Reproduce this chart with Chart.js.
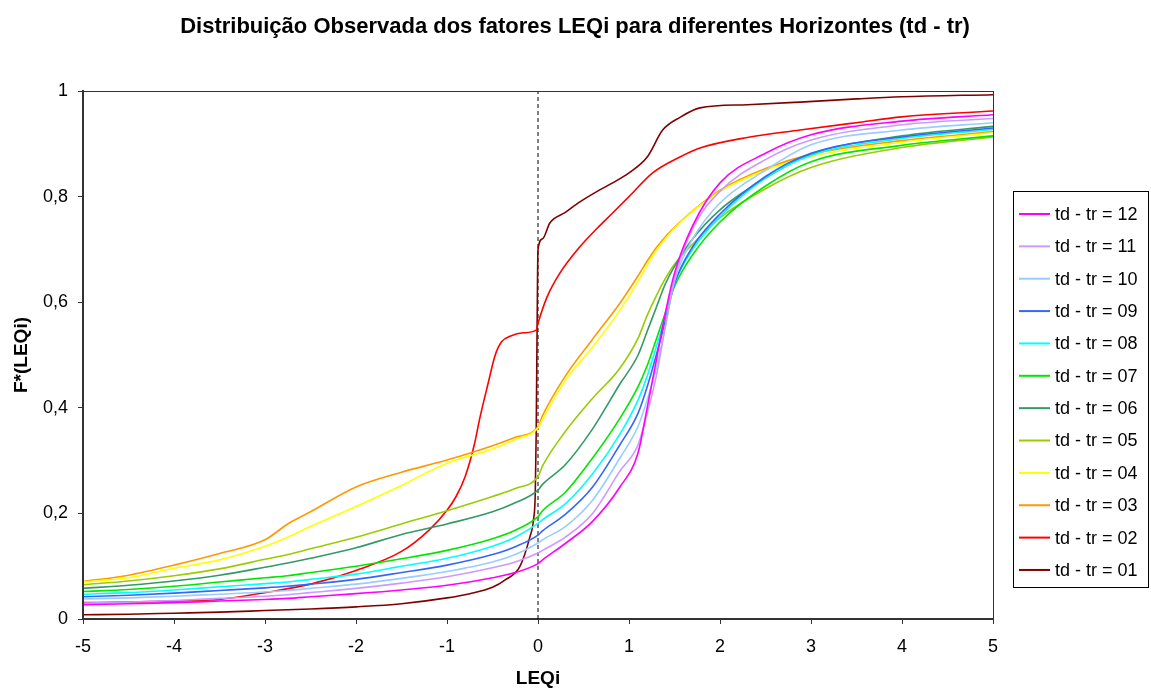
<!DOCTYPE html>
<html>
<head>
<meta charset="utf-8">
<script src="https://cdn.jsdelivr.net/npm/chart.js@4.4.1/dist/chart.umd.min.js"></script>
<style>
  body { margin: 0; background: #fff; }
  #wrap { width: 1151px; height: 688px; }
</style>
</head>
<body>
<div id="wrap"><canvas id="myChart"></canvas></div>
<script>
// common LEQi grid for the smoother horizons
const xGrid = [-5, -4.5, -4, -3.5, -3, -2.75, -2.5, -2, -1.5, -1, -0.5, -0.25, 0, 0.05, 0.3, 0.6, 0.9, 1.1, 1.2, 1.3, 1.4, 1.5, 1.7, 2, 2.5, 3, 4, 5];

const f12 = [0.027, 0.029, 0.031, 0.034, 0.037, 0.039, 0.042, 0.048, 0.055, 0.064, 0.078, 0.088, 0.105, 0.112, 0.143, 0.185, 0.25, 0.315, 0.40, 0.49, 0.58, 0.655, 0.745, 0.826, 0.882, 0.917, 0.943, 0.955];
const f11 = [0.03, 0.032, 0.035, 0.039, 0.043, 0.046, 0.05, 0.058, 0.068, 0.08, 0.097, 0.108, 0.125, 0.13, 0.155, 0.2, 0.28, 0.33, 0.39, 0.46, 0.555, 0.645, 0.74, 0.81, 0.87, 0.907, 0.936, 0.948];
const f10 = [0.038, 0.04, 0.043, 0.047, 0.051, 0.054, 0.058, 0.066, 0.077, 0.09, 0.108, 0.122, 0.144, 0.15, 0.175, 0.225, 0.305, 0.365, 0.415, 0.475, 0.555, 0.64, 0.72, 0.788, 0.85, 0.898, 0.926, 0.94];
const f09 = [0.042, 0.045, 0.049, 0.054, 0.059, 0.062, 0.066, 0.075, 0.088, 0.102, 0.122, 0.137, 0.159, 0.167, 0.198, 0.25, 0.33, 0.39, 0.44, 0.50, 0.565, 0.635, 0.705, 0.767, 0.838, 0.882, 0.913, 0.93];
const f08 = [0.047, 0.05, 0.055, 0.061, 0.067, 0.07, 0.075, 0.085, 0.1, 0.115, 0.138, 0.155, 0.181, 0.188, 0.218, 0.275, 0.35, 0.415, 0.46, 0.515, 0.575, 0.635, 0.70, 0.762, 0.835, 0.878, 0.91, 0.927];
const f07 = [0.052, 0.056, 0.062, 0.07, 0.078, 0.082, 0.088, 0.1, 0.114, 0.13, 0.152, 0.168, 0.194, 0.205, 0.24, 0.305, 0.38, 0.44, 0.48, 0.53, 0.58, 0.63, 0.69, 0.752, 0.82, 0.866, 0.897, 0.915];
const f06 = [0.058, 0.064, 0.072, 0.083, 0.098, 0.106, 0.115, 0.135, 0.16, 0.18, 0.203, 0.22, 0.244, 0.255, 0.292, 0.36, 0.445, 0.5, 0.545, 0.59, 0.635, 0.668, 0.72, 0.775, 0.835, 0.88, 0.915, 0.933];
const f05 = [0.065, 0.072, 0.082, 0.095, 0.113, 0.122, 0.133, 0.155, 0.18, 0.205, 0.232, 0.247, 0.27, 0.29, 0.355, 0.418, 0.475, 0.532, 0.575, 0.612, 0.645, 0.672, 0.71, 0.76, 0.815, 0.855, 0.893, 0.913];
const f04 = [0.07, 0.078, 0.096, 0.112, 0.138, 0.155, 0.175, 0.213, 0.253, 0.295, 0.322, 0.34, 0.362, 0.378, 0.452, 0.515, 0.585, 0.64, 0.67, 0.698, 0.72, 0.74, 0.772, 0.81, 0.85, 0.876, 0.903, 0.921];
const f03 = [0.071, 0.083, 0.102, 0.124, 0.15, 0.18, 0.203, 0.25, 0.278, 0.301, 0.328, 0.344, 0.364, 0.385, 0.46, 0.53, 0.598, 0.65, 0.678, 0.703, 0.724, 0.742, 0.773, 0.812, 0.853, 0.88, 0.906, 0.923];

// horizons 02 and 01 have their own grids (steep jumps near 0)
const x02 = [-5, -4.5, -4, -3.5, -3, -2.5, -2, -1.5, -1.2, -1.0, -0.9, -0.8, -0.7, -0.64, -0.55, -0.47, -0.4, -0.3, -0.16, -0.02, 0, 0.1, 0.24, 0.46, 0.65, 0.82, 1.0, 1.26, 1.56, 1.78, 2.3, 2.88, 3.5, 4.0, 5.0];
const f02 = [0.031, 0.032, 0.034, 0.037, 0.05, 0.066, 0.092, 0.128, 0.168, 0.206, 0.232, 0.27, 0.33, 0.38, 0.445, 0.5, 0.525, 0.536, 0.542, 0.547, 0.56, 0.61, 0.655, 0.705, 0.74, 0.769, 0.80, 0.845, 0.875, 0.892, 0.912, 0.926, 0.94, 0.951, 0.962];
const x01 = [-5, -4.5, -4, -3.5, -3, -2.5, -2, -1.5, -1, -0.75, -0.5, -0.36, -0.2, -0.09, -0.05, -0.03, -0.02, -0.01, 0.0, 0.05, 0.13, 0.3, 0.46, 0.65, 0.82, 1.0, 1.2, 1.37, 1.56, 1.78, 2.3, 2.88, 3.5, 4.0, 5.0];
const f01 = [0.008, 0.009, 0.011, 0.013, 0.016, 0.019, 0.023, 0.029, 0.040, 0.048, 0.06, 0.074, 0.099, 0.155, 0.187, 0.238, 0.35, 0.55, 0.70, 0.72, 0.75, 0.77, 0.79, 0.81, 0.826, 0.845, 0.875, 0.926, 0.95, 0.968, 0.974, 0.979, 0.985, 0.989, 0.993];

const names = ['td - tr = 12', 'td - tr = 11', 'td - tr = 10', 'td - tr = 09', 'td - tr = 08', 'td - tr = 07',
  'td - tr = 06', 'td - tr = 05', 'td - tr = 04', 'td - tr = 03', 'td - tr = 02', 'td - tr = 01'];
const colors = ['#ff00ff', '#cc99ff', '#99ccff', '#3366ff', '#00ffff', '#00e600',
  '#339966', '#99cc00', '#ffff00', '#ff9900', '#ff0000', '#800000'];

const titleText = 'Distribuição Observada dos fatores LEQi para diferentes Horizontes (td - tr)';
const font = '"Liberation Sans", Arial, sans-serif';

function pts(xs, ys) {
  return xs.map((x, i) => ({ x: x, y: ys[i] }));
}

const series = [
  pts(xGrid, f12), pts(xGrid, f11), pts(xGrid, f10), pts(xGrid, f09), pts(xGrid, f08), pts(xGrid, f07),
  pts(xGrid, f06), pts(xGrid, f05), pts(xGrid, f04), pts(xGrid, f03), pts(x02, f02), pts(x01, f01)
];

const datasets = series.map((d, i) => ({
  label: names[i],
  data: d,
  borderColor: colors[i],
  borderWidth: 1.6,
  pointRadius: 0,
  cubicInterpolationMode: 'monotone'
}));

// dashed reference line at LEQi = 0
datasets.push({
  label: 'ref',
  data: [{ x: 0, y: 0 }, { x: 0, y: 1 }],
  borderColor: '#000',
  borderWidth: 1,
  borderDash: [4, 3],
  pointRadius: 0
});

const boxPlugin = {
  id: 'boxPlugin',
  afterDatasetsDraw(chart) {
    const a = chart.chartArea;
    const c = chart.ctx;
    c.save();
    c.strokeStyle = '#333';
    c.lineWidth = 1;
    c.strokeRect(a.left + 0.5, a.top + 0.5, a.right - a.left, a.bottom - a.top);
    c.restore();
  },
  afterDraw(chart) {
    const c = chart.ctx;
    c.save();
    // title, centred on the whole canvas
    c.fillStyle = '#000';
    c.font = 'bold 22px ' + font;
    c.textAlign = 'center';
    c.textBaseline = 'middle';
    c.fillText(titleText, 575, 27);
    // legend box
    c.textAlign = 'left';
    c.strokeStyle = '#000';
    c.lineWidth = 1;
    c.strokeRect(1013.5, 191.5, 135, 396);
    c.font = '18px ' + font;
    for (let i = 0; i < names.length; i++) {
      const y = 214 + i * 32.36;
      c.strokeStyle = colors[i];
      c.lineWidth = 2;
      c.beginPath();
      c.moveTo(1019, y);
      c.lineTo(1050, y);
      c.stroke();
      c.fillText(names[i], 1055, y + 1);
    }
    c.restore();
  }
};

const ctx = document.getElementById('myChart');

var myChart = new Chart(ctx, {
  type: 'line',
  data: { datasets: datasets },
  plugins: [boxPlugin],
  options: {
    responsive: true,
    maintainAspectRatio: false,
    animation: false,
    layout: { padding: { left: 0, right: 158, top: 91, bottom: 0 } },
    plugins: {
      legend: { display: false },
      tooltip: { enabled: false }
    },
    scales: {
      x: {
        type: 'linear',
        min: -5,
        max: 5,
        afterFit(scale) { scale.height = 69; },
        border: { color: '#333', width: 2 },
        grid: { display: true, drawOnChartArea: false, tickLength: 5, color: '#333' },
        ticks: {
          stepSize: 1,
          padding: 12,
          color: '#000',
          font: { family: font, size: 18 }
        },
        title: {
          display: true,
          text: 'LEQi',
          color: '#000',
          padding: { top: 4, bottom: 0 },
          font: { family: font, size: 19, weight: 'bold', lineHeight: 1 }
        }
      },
      y: {
        type: 'linear',
        min: 0,
        max: 1,
        afterFit(scale) { scale.width = 83; },
        border: { color: '#333', width: 2 },
        grid: { display: true, drawOnChartArea: false, tickLength: 5, color: '#333' },
        ticks: {
          stepSize: 0.2,
          padding: 10,
          color: '#000',
          font: { family: font, size: 18 },
          callback: (v) => (Math.round(v * 10) / 10).toString().replace('.', ',')
        },
        title: {
          display: true,
          text: 'F*(LEQi)',
          color: '#000',
          padding: { top: 12, bottom: 0 },
          font: { family: font, size: 19, weight: 'bold', lineHeight: 1 }
        }
      }
    }
  }
});
</script>
</body>
</html>
